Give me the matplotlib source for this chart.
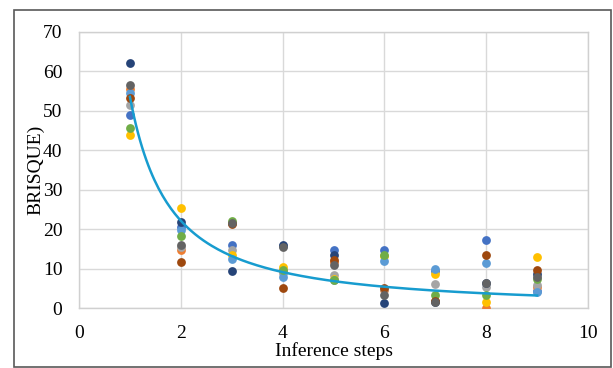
import numpy as np
import matplotlib
matplotlib.use("Agg")
import matplotlib.pyplot as plt
from matplotlib.patches import Rectangle

plt.rcParams['font.family'] = ['Liberation Serif', 'DejaVu Serif']

steps = [1, 2, 3, 4, 5, 6, 7, 8, 9]

# one list per series (BRISQUE per step)
s_blue = [48.8, 20.5, 16.1, 15.8, 14.7, 14.9, 9.5, 17.2, 4.5]
s_orange = [55.4, 14.9, 21.5, 9.5, 11.8, 4.8, 2.0, 0.2, 5.4]
s_gray = [51.4, 15.5, 14.9, 9.0, 8.4, 5.0, 6.3, 5.5, 6.0]
s_yellow = [43.8, 25.4, 13.4, 10.5, 7.5, 13.3, 8.7, 1.6, 12.9]
s_lightblue = [54.5, 19.9, 12.5, 8.0, 7.3, 12.1, 10.1, 11.4, 4.2]
s_green = [45.5, 18.4, 22.2, 9.8, 7.1, 13.6, 3.3, 3.5, 7.5]
s_darkblue = [62.1, 21.8, 9.6, 16.1, 13.6, 1.4, 1.6, 6.5, 8.6]
s_brown = [53.1, 11.7, 21.3, 5.2, 12.3, 5.2, 2.0, 13.4, 9.8]
s_darkgray = [56.4, 16.1, 21.7, 15.5, 10.9, 3.5, 1.6, 6.5, 8.0]

series = [s_blue, s_orange, s_gray, s_yellow, s_lightblue,
          s_green, s_darkblue, s_brown, s_darkgray]
colors = ['#4472C4', '#ED7D31', '#A5A5A5', '#FFC000', '#5B9BD5',
          '#70AD47', '#264478', '#9E480E', '#636363']

# power trendline y = a * x^b (coefficients)
trend_a = 53.5
trend_b = -1.27

fig = plt.figure(figsize=(6.13, 3.68), dpi=100)
ax = fig.add_axes([0.1289, 0.1617, 0.8303, 0.7527])

for vals, c in zip(series, colors):
    ax.scatter(steps, vals, s=40, color=c, zorder=3, linewidths=0)

xt = np.linspace(1, 9, 200)
ax.plot(xt, trend_a * xt ** trend_b, color='#179CCF', lw=1.8, zorder=4)

ax.set_xlim(0, 10)
ax.set_ylim(0, 70)
ax.set_xticks(np.arange(0, 11, 2))
ax.set_yticks(np.arange(0, 71, 10))
ax.grid(True, color='#D9D9D9', lw=1.0)
ax.set_axisbelow(True)
for sp in ax.spines.values():
    sp.set_color('#D0D0D0')
    sp.set_linewidth(1.0)
ax.tick_params(length=0, labelsize=14, colors='black')
ax.tick_params(axis='x', pad=12)
ax.tick_params(axis='y', pad=12)
ax.set_xlabel('Inference steps', fontsize=14, labelpad=0)
ax.set_ylabel('BRISQUE)', fontsize=14, labelpad=-1)

fig.patches.append(Rectangle((0.0228, 0.0027), 0.9739, 0.9701,
                             transform=fig.transFigure, fill=False,
                             edgecolor='#595959', lw=1.2))

fig.savefig('out.png', dpi=100)
